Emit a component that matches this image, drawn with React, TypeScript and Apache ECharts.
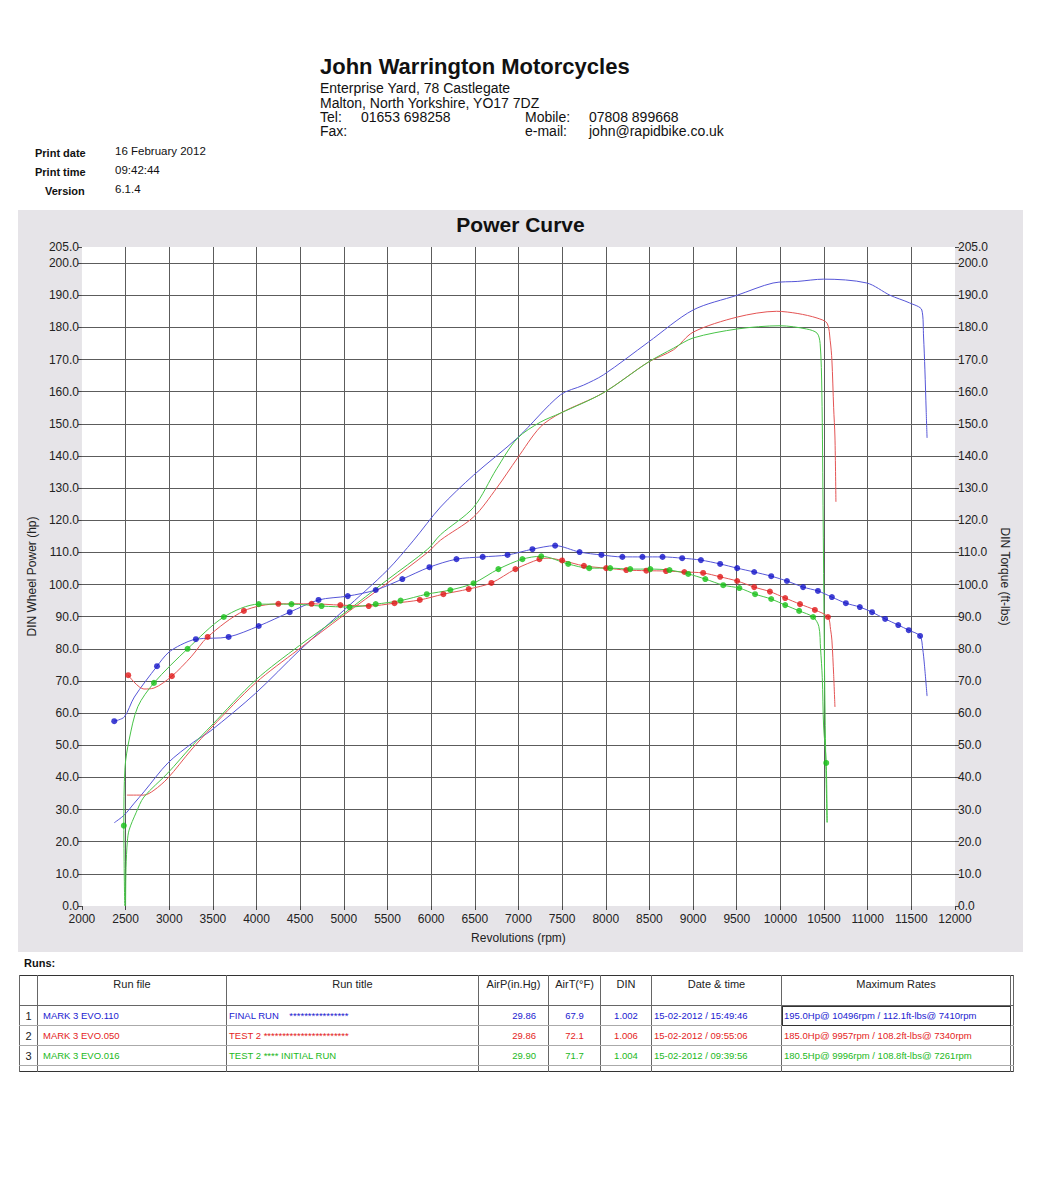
import React, { useEffect, useRef } from "react";
import * as echarts from "echarts";

const FONT = "'Liberation Sans', Arial, Helvetica, sans-serif";

// ---------- Data (rpm, value) ----------
const bluePower = [
  [2370, 25.9], [2485, 28.3], [2600, 32], [2710, 35.5], [2985, 44.5], [3280, 51], [3475, 54.5],
  [3990, 66.2], [4495, 79.6], [5000, 92], [5500, 104.5], [5800, 113.8], [6107, 124.1], [6485, 134],
  [6988, 145.6], [7480, 159], [7743, 162], [7972, 165.2], [8488, 175.4], [9000, 185.4], [9505, 190],
  [9916, 193.8], [10200, 194.3], [10496, 195], [10990, 193.8], [11255, 190], [11480, 187.6],
  [11620, 185.4], [11640, 177], [11655, 167], [11670, 154], [11680, 145.6],
];
const redPower = [
  [2515, 34.5], [2710, 34.5], [2825, 36], [2985, 39.8], [3250, 48.5], [3490, 55.7], [3990, 69.4],
  [4470, 79.6], [5000, 90.5], [5500, 100.5], [5960, 110], [6107, 113.8], [6485, 121], [6750, 130],
  [6988, 139.3], [7250, 149], [7480, 153.3], [7970, 159.6], [8488, 169.2], [8775, 173], [9000, 178.5],
  [9505, 183.2], [9957, 185], [10200, 184.3], [10420, 182.9], [10535, 181.3], [10570, 176],
  [10590, 169.8], [10610, 155], [10625, 145.9], [10636, 125.7],
];
const greenPower = [
  [2500, 0], [2505, 12], [2520, 20], [2540, 23.6], [2620, 29], [2710, 33.9], [2985, 41.4], [3250, 49.5],
  [3490, 56.3], [3990, 70.3], [4490, 81], [5000, 91], [5500, 101.5], [5960, 111], [6107, 115.5],
  [6485, 124], [6750, 136], [6988, 145.5], [7250, 150.5], [7480, 153.3], [7970, 159.6], [8488, 169.2],
  [8775, 173.5], [9000, 176.7], [9505, 179.5], [9996, 180.5], [10300, 179.5], [10420, 178.2],
  [10455, 175], [10475, 160], [10490, 120], [10505, 75], [10520, 45], [10535, 26],
];

const blueTorqueDots = [
  [2370, 57.5], [2860, 74.6], [3305, 83], [3680, 83.7], [4025, 87.1], [4380, 91.4], [4710, 95.2],
  [5045, 96.4], [5365, 98.3], [5670, 101.7], [5980, 105.4], [6290, 107.9], [6590, 108.6], [6875, 109.2],
  [7160, 111], [7420, 112.1], [7700, 110.1], [7950, 109.2], [8190, 108.6], [8420, 108.6], [8650, 108.6],
  [8875, 108.2], [9090, 107.6], [9310, 106.4], [9505, 105.1], [9700, 103.9], [9895, 102.6],
  [10075, 101.1], [10260, 99.2], [10430, 98], [10590, 96.1], [10750, 94.2], [10910, 93], [11050, 91.4],
  [11200, 89.3], [11350, 87.4], [11470, 85.8], [11600, 84],
];
const blueTorqueBends = [
  [2485, 58.8], [2600, 65], [2985, 78.7], [3130, 81.2], [11630, 80], [11650, 75], [11680, 65.3],
];

const redTorqueDots = [
  [2530, 71.8], [3030, 71.5], [3440, 83.7], [3855, 91.8], [4250, 94], [4630, 94], [4960, 93.6],
  [5285, 93.3], [5580, 94.2], [5870, 95.2], [6140, 97], [6430, 98.6], [6690, 100.5], [6965, 104.8],
  [7240, 107.9], [7500, 107.5], [7750, 105.8], [8005, 105.1], [8235, 104.5], [8465, 104.3],
  [8690, 104.2], [8900, 103.9], [9115, 103.6], [9310, 102.4], [9505, 101.1], [9700, 99.2],
  [9880, 97.8], [10055, 95.8], [10225, 93.9], [10395, 92.1], [10545, 89.9],
];
const redTorqueBends = [
  [2710, 67.5], [2825, 67.8], [3250, 77.5], [7340, 108.2], [10575, 86], [10590, 82.7], [10610, 72],
  [10625, 61.9],
];

const greenTorqueLead = [[2490, 0]];
const greenTorqueDots = [
  [2480, 25], [2825, 69.4], [3210, 80], [3625, 89.9], [4025, 93.9], [4400, 93.9], [4745, 93.3],
  [5065, 93], [5365, 93.9], [5650, 95], [5950, 97], [6220, 98.3], [6485, 100.4], [6770, 104.8],
  [7045, 107.9], [7261, 108.8], [7570, 106.4], [7810, 105.1], [8050, 105.1], [8280, 104.8],
  [8510, 104.8], [8730, 104.5], [8945, 103.3], [9140, 101.7], [9345, 99.8], [9530, 98.9], [9710, 97],
  [9895, 95.5], [10055, 93.6], [10215, 91.8], [10375, 89.9], [10525, 44.5],
];
const greenTorqueBends = [
  [2493, 43], [2540, 51.6], [2640, 62], [10440, 87], [10460, 80], [10480, 71], [10495, 56], [10535, 26],
];

// ---------- Axis ticks ----------
const RPM_MIN = 2000;
const RPM_MAX = 12000;
const RPM_STEP = 500;
const VAL_MIN = 0;
const VAL_MAX = 205;
const VAL_STEP = 10;

// ---------- Run table ----------
const runNo = ["1", "2", "3"];
const runFiles = ["MARK 3 EVO.110", "MARK 3 EVO.050", "MARK 3 EVO.016"];
const runTitles = [
  "FINAL RUN    ****************",
  "TEST 2 ***********************",
  "TEST 2 **** INITIAL RUN",
];
const airP = ["29.86", "29.86", "29.90"];
const airT = ["67.9", "72.1", "71.7"];
const din = ["1.002", "1.006", "1.004"];
const dateTimes = ["15-02-2012 / 15:49:46", "15-02-2012 / 09:55:06", "15-02-2012 / 09:39:56"];
const maxRates = [
  "195.0Hp@ 10496rpm / 112.1ft-lbs@ 7410rpm",
  "185.0Hp@ 9957rpm / 108.2ft-lbs@ 7340rpm",
  "180.5Hp@ 9996rpm / 108.8ft-lbs@ 7261rpm",
];
const runColors = ["#1a1ad0", "#e41c1c", "#1cb81c"];

const LINE_BLUE = "#5656d8";
const LINE_RED = "#e45454";
const LINE_GREEN = "#48c448";
const DOT_BLUE = "#1414c8";
const DOT_RED = "#e01818";
const DOT_GREEN = "#18c018";

function torquePath(lead: number[][], dots: number[][], bends: number[][]) {
  const body = [...dots, ...bends].sort((a, b) => a[0] - b[0]);
  return [...lead, ...body];
}

function buildOption() {
  const labelFmt = (v: number) => v.toFixed(1);
  const axisLabelStyle = { fontFamily: FONT, fontSize: 12, color: "#222" };
  const lineSeries = (name: string, data: number[][], color: string, yIdx: number) => ({
    name,
    type: "line",
    data,
    yAxisIndex: yIdx,
    showSymbol: false,
    symbol: "none",
    smooth: 0.3,
    lineStyle: { color, width: 1 },
    silent: true,
  });
  const dotSeries = (name: string, data: number[][], color: string) => ({
    name,
    type: "scatter",
    data,
    yAxisIndex: 1,
    symbol: "circle",
    symbolSize: 6,
    itemStyle: { color },
    silent: true,
    z: 5,
  });
  return {
    animation: false,
    backgroundColor: "#e6e4e8",
    title: {
      text: "Power Curve",
      left: "center",
      top: 4,
      padding: 0,
      textStyle: { fontFamily: FONT, fontSize: 21, fontWeight: "bold", color: "#111" },
    },
    grid: {
      left: 63,
      right: 68,
      top: 37,
      bottom: 46,
      show: true,
      backgroundColor: "#ffffff",
      borderWidth: 0,
    },
    xAxis: {
      type: "value",
      min: RPM_MIN,
      max: RPM_MAX,
      interval: RPM_STEP,
      name: "Revolutions (rpm)",
      nameLocation: "middle",
      nameGap: 26,
      nameTextStyle: { fontFamily: FONT, fontSize: 12, color: "#222" },
      axisLine: { show: false },
      axisTick: { show: true, length: 4, lineStyle: { color: "#444" } },
      axisLabel: { ...axisLabelStyle, margin: 7, formatter: (v: number) => String(v) },
      splitLine: {
        show: true,
        showMinLine: false,
        showMaxLine: false,
        lineStyle: { color: "#5c5c5c", width: 1 },
      },
    },
    yAxis: [
      {
        type: "value",
        position: "left",
        min: VAL_MIN,
        max: VAL_MAX,
        interval: VAL_STEP,
        name: "DIN Wheel Power (hp)",
        nameLocation: "middle",
        nameGap: 40,
        nameRotate: 90,
        nameTextStyle: { fontFamily: FONT, fontSize: 12, color: "#222" },
        axisLine: { show: false },
        axisTick: { show: true, length: 4, lineStyle: { color: "#444" } },
        axisLabel: { ...axisLabelStyle, margin: 3, formatter: labelFmt },
        splitLine: {
          show: true,
          showMinLine: false,
          showMaxLine: false,
          lineStyle: { color: "#5c5c5c", width: 1 },
        },
      },
      {
        type: "value",
        position: "right",
        min: VAL_MIN,
        max: VAL_MAX,
        interval: VAL_STEP,
        name: "DIN Torque (ft-lbs)",
        nameLocation: "middle",
        nameGap: 40,
        nameRotate: -90,
        nameTextStyle: { fontFamily: FONT, fontSize: 12, color: "#222" },
        axisLine: { show: false },
        axisTick: { show: true, length: 4, lineStyle: { color: "#444" } },
        axisLabel: { ...axisLabelStyle, margin: 3, formatter: labelFmt },
        splitLine: { show: false },
      },
    ],
    series: [
      lineSeries("Power 1", bluePower, LINE_BLUE, 0),
      lineSeries("Power 2", redPower, LINE_RED, 0),
      lineSeries("Power 3", greenPower, LINE_GREEN, 0),
      lineSeries("Torque 1", torquePath([], blueTorqueDots, blueTorqueBends), LINE_BLUE, 1),
      lineSeries("Torque 2", torquePath([], redTorqueDots, redTorqueBends), LINE_RED, 1),
      lineSeries("Torque 3", torquePath(greenTorqueLead, greenTorqueDots, greenTorqueBends), LINE_GREEN, 1),
      dotSeries("Torque 1 pts", blueTorqueDots, DOT_BLUE),
      dotSeries("Torque 2 pts", redTorqueDots, DOT_RED),
      dotSeries("Torque 3 pts", greenTorqueDots, DOT_GREEN),
    ],
  };
}

const abs = (left: number, top: number, size: number, extra: React.CSSProperties = {}): React.CSSProperties => ({
  position: "absolute",
  left,
  top,
  fontSize: size,
  lineHeight: `${size}px`,
  fontFamily: FONT,
  whiteSpace: "nowrap",
  color: "#111",
  ...extra,
});

const colWidths = [18, 189, 252, 70, 52, 51, 130, 229, 3];

export default function App() {
  const ref = useRef<HTMLDivElement>(null);
  useEffect(() => {
    if (!ref.current) return;
    const chart = echarts.init(ref.current, null, { renderer: "svg" });
    chart.setOption(buildOption() as any);
    return () => chart.dispose();
  }, []);

  const vline = "1px solid #666";
  const hline = "1px solid #aaa";
  const cellBase: React.CSSProperties = {
    padding: 0,
    borderLeft: vline,
    borderRight: vline,
    overflow: "hidden",
    whiteSpace: "nowrap",
    fontFamily: FONT,
  };

  return (
    <div style={{ position: "absolute", left: 0, top: 0, width: 1055, height: 1200, background: "#fff" }}>
      {/* Header */}
      <div style={abs(320, 56, 22, { fontWeight: "bold" })}>John Warrington Motorcycles</div>
      <div style={abs(320, 81, 14)}>Enterprise Yard, 78 Castlegate</div>
      <div style={abs(320, 96, 14)}>Malton, North Yorkshire, YO17 7DZ</div>
      <div style={abs(320, 110, 14)}>Tel:</div>
      <div style={abs(361, 110, 14)}>01653 698258</div>
      <div style={abs(525, 110, 14)}>Mobile:</div>
      <div style={abs(589, 110, 14)}>07808 899668</div>
      <div style={abs(320, 124, 14)}>Fax:</div>
      <div style={abs(525, 124, 14)}>e-mail:</div>
      <div style={abs(589, 124, 14)}>john@rapidbike.co.uk</div>

      <div style={abs(35, 148, 11, { fontWeight: "bold" })}>Print date</div>
      <div style={abs(115, 146, 11.5)}>16 February 2012</div>
      <div style={abs(35, 167, 11, { fontWeight: "bold" })}>Print time</div>
      <div style={abs(115, 165, 11.5)}>09:42:44</div>
      <div style={abs(45, 186, 11, { fontWeight: "bold" })}>Version</div>
      <div style={abs(115, 184, 11.5)}>6.1.4</div>

      {/* Chart */}
      <div ref={ref} style={{ position: "absolute", left: 18, top: 210, width: 1005, height: 742 }} />

      {/* Runs table */}
      <div style={abs(24, 958, 11, { fontWeight: "bold" })}>Runs:</div>
      <table
        style={{
          position: "absolute",
          left: 19,
          top: 975,
          width: 994,
          borderCollapse: "collapse",
          tableLayout: "fixed",
          border: "1px solid #333",
          fontFamily: FONT,
        }}
      >
        <colgroup>
          {colWidths.map((w, i) => (
            <col key={i} style={{ width: w }} />
          ))}
        </colgroup>
        <tbody>
          <tr style={{ height: 30 }}>
            {["", "Run file", "Run title", "AirP(in.Hg)", "AirT(°F)", "DIN", "Date & time", "Maximum Rates", ""].map(
              (h, i) => (
                <td
                  key={i}
                  style={{
                    ...cellBase,
                    borderBottom: vline,
                    verticalAlign: "top",
                    textAlign: "center",
                    fontSize: 11,
                    lineHeight: "13px",
                    paddingTop: 2,
                    color: "#222",
                  }}
                >
                  {h}
                </td>
              )
            )}
          </tr>
          {runFiles.map((f, r) => {
            const c = runColors[r];
            const cs = (extra: React.CSSProperties = {}): React.CSSProperties => ({
              ...cellBase,
              borderBottom: hline,
              fontSize: 9.5,
              lineHeight: "12px",
              color: c,
              verticalAlign: "middle",
              ...extra,
            });
            return (
              <tr key={r} style={{ height: 20 }}>
                <td style={cs({ color: "#222", fontSize: 11, textAlign: "center" })}>{runNo[r]}</td>
                <td style={cs({ paddingLeft: 5 })}>{f}</td>
                <td style={cs({ paddingLeft: 2, whiteSpace: "pre" })}>{runTitles[r]}</td>
                <td style={cs({ textAlign: "right", paddingRight: 12 })}>{airP[r]}</td>
                <td style={cs({ textAlign: "center" })}>{airT[r]}</td>
                <td style={cs({ textAlign: "center" })}>{din[r]}</td>
                <td style={cs({ paddingLeft: 2 })}>{dateTimes[r]}</td>
                <td
                  style={cs({
                    paddingLeft: 2,
                    ...(r === 0 ? { outline: "1px solid #333", outlineOffset: -1 } : {}),
                  })}
                >
                  {maxRates[r]}
                </td>
                <td style={cs()}></td>
              </tr>
            );
          })}
          <tr style={{ height: 5 }}>
            {colWidths.map((_, i) => (
              <td key={i} style={{ ...cellBase, padding: 0, height: 5 }}></td>
            ))}
          </tr>
        </tbody>
      </table>
    </div>
  );
}
